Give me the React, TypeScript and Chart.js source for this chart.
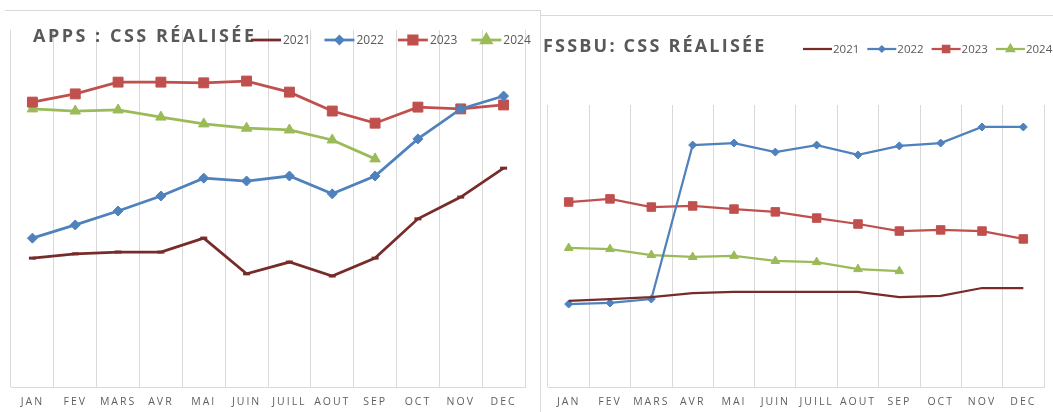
import React, { useEffect, useRef } from "react";
import { Chart, registerables } from "chart.js";
import { drawPoint } from "chart.js/helpers";

Chart.register(...registerables);

const months = ["JAN", "FEV", "MARS", "AVR", "MAI", "JUIN", "JUILL", "AOUT", "SEP", "OCT", "NOV", "DEC"];
const years = ["2021", "2022", "2023", "2024"];

const apps2021 = [36.1, 37.3, 37.8, 37.8, 41.7, 31.7, 35.0, 31.1, 36.1, 47.1, 53.2, 61.3];
const apps2022 = [41.7, 45.4, 49.3, 53.5, 58.5, 57.7, 59.1, 54.1, 59.1, 69.5, 77.9, 81.5];
const apps2023 = [79.8, 82.1, 85.4, 85.4, 85.2, 85.7, 82.6, 77.3, 73.9, 78.4, 77.9, 79.0];
const apps2024 = [77.9, 77.3, 77.6, 75.6, 73.7, 72.5, 72.0, 69.2, 63.9];

const fssbu2021 = [30.5, 31.2, 31.9, 33.3, 33.7, 33.7, 33.7, 33.7, 31.9, 32.3, 35.1, 35.1];
const fssbu2022 = [29.4, 29.8, 31.2, 85.8, 86.5, 83.3, 85.8, 82.3, 85.5, 86.5, 92.2, 92.2];
const fssbu2023 = [65.6, 66.7, 63.8, 64.2, 63.1, 62.1, 59.9, 57.8, 55.3, 55.7, 55.3, 52.5];
const fssbu2024 = [49.3, 48.9, 46.8, 46.1, 46.5, 44.7, 44.3, 41.8, 41.1];

const colors = ["#772C2A", "#4F81BD", "#C0504D", "#9BBB59"];
const styles = ["line", "rectRot", "rect", "triangle"];

const decorPlugin = {
  id: "excelDecor",
  beforeDraw(chart: any) {
    (chart.ctx as any).letterSpacing = "2px";
  },
  afterDraw(chart: any, _args: any, opts: any) {
    const ctx = chart.ctx as any;
    ctx.save();
    ctx.letterSpacing = opts.titleSpacing;
    ctx.font = `bold ${opts.titleSize}px "Open Sans"`;
    ctx.fillStyle = "#595959";
    ctx.textBaseline = "middle";
    ctx.textAlign = "left";
    ctx.fillText(opts.title, opts.titleX, opts.titleY);
    ctx.letterSpacing = "0px";
    ctx.font = `${opts.legendSize}px "Open Sans"`;
    let x = opts.legendX;
    const y = opts.legendY;
    chart.data.datasets.forEach((ds: any, i: number) => {
      ctx.strokeStyle = ds.borderColor;
      ctx.lineWidth = opts.legendLineWidth;
      ctx.beginPath();
      ctx.moveTo(x, y);
      ctx.lineTo(x + opts.legendLen, y);
      ctx.stroke();
      const r = opts.legendRadii[i];
      if (r > 0) {
        ctx.fillStyle = ds.borderColor;
        ctx.strokeStyle = ds.borderColor;
        drawPoint(ctx, { pointStyle: ds.pointStyle, radius: r, rotation: 0, borderWidth: 1 } as any, x + opts.legendLen / 2, y);
      }
      ctx.fillStyle = "#595959";
      const tx = x + opts.legendLen + opts.textGap;
      ctx.fillText(ds.label, tx, y + 0.5);
      x = tx + ctx.measureText(ds.label).width + opts.itemGap;
    });
    ctx.restore();
  },
};

function makeDatasets(series: number[][], radii: number[], lw: number) {
  return series.map((d, i) => ({
    label: years[i],
    data: d,
    borderColor: colors[i],
    backgroundColor: colors[i],
    pointBackgroundColor: colors[i],
    pointBorderColor: colors[i],
    pointStyle: styles[i],
    pointRadius: radii[i],
    pointBorderWidth: i === 0 ? 3 : 1,
    borderWidth: lw,
    tension: 0,
  }));
}

function makeConfig(datasets: any[], padding: any, decor: any) {
  return {
    type: "line",
    data: { labels: months, datasets },
    options: {
      animation: false,
      responsive: false,
      events: [],
      layout: { padding },
      plugins: {
        legend: { display: false },
        tooltip: { enabled: false },
        title: { display: false },
        excelDecor: decor,
      },
      scales: {
        x: {
          offset: true,
          grid: { offset: true, color: "#d9d9d9", drawTicks: false, lineWidth: 1 },
          border: { color: "#d9d9d9" },
          ticks: {
            color: "#5f5f5f",
            font: { family: "Open Sans", size: 10.5 },
            padding: 9,
            maxRotation: 0,
            autoSkip: false,
          },
          afterFit: (s: any) => {
            s.height = 25;
          },
        },
        y: { display: false, min: 0, max: 100 },
      },
    },
    plugins: [decorPlugin],
  } as any;
}

function ChartBox(props: { config: any; left: number; width: number }) {
  const ref = useRef<HTMLCanvasElement | null>(null);
  useEffect(() => {
    if (!ref.current) return;
    const ch = new Chart(ref.current, props.config);
    return () => ch.destroy();
  }, []);
  return (
    <canvas
      ref={ref}
      width={props.width}
      height={412}
      style={{ position: "absolute", left: props.left, top: 0, width: props.width, height: 412 }}
    />
  );
}

export default function App() {
  const leftCfg = makeConfig(
    makeDatasets([apps2021, apps2022, apps2023, apps2024], [3.5, 5, 7, 6], 2.75),
    { left: 11, right: 15, top: 30, bottom: 0 },
    {
      title: "APPS : CSS RÉALISÉE",
      titleX: 33,
      titleY: 37,
      titleSize: 18,
      titleSpacing: "2.5px",
      legendX: 251,
      legendY: 40,
      legendLen: 30,
      legendSize: 12,
      legendLineWidth: 2.75,
      legendRadii: [0, 3.5, 6, 5.5],
      textGap: 2,
      itemGap: 14,
    }
  );
  const rightCfg = makeConfig(
    makeDatasets([fssbu2021, fssbu2022, fssbu2023, fssbu2024], [0, 4, 6, 5], 2.25),
    { left: 4, right: 9, top: 105, bottom: 0 },
    {
      title: "FSSBU: CSS RÉALISÉE",
      titleX: 2,
      titleY: 47,
      titleSize: 18,
      titleSpacing: "2.2px",
      legendX: 262,
      legendY: 49,
      legendLen: 29,
      legendSize: 11.5,
      legendLineWidth: 2.25,
      legendRadii: [0, 2.5, 4.5, 4],
      textGap: 1,
      itemGap: 8,
    }
  );
  const line = "#d9d9d9";
  return (
    <div style={{ position: "absolute", left: 0, top: 0, width: 1053, height: 412, background: "#fff", overflow: "hidden" }}>
      <ChartBox config={leftCfg} left={0} width={540} />
      <ChartBox config={rightCfg} left={541} width={512} />
      <div style={{ position: "absolute", left: 5, top: 10, width: 535, height: 1, background: line }} />
      <div style={{ position: "absolute", left: 540, top: 10, width: 1, height: 402, background: line }} />
      <div style={{ position: "absolute", left: 541, top: 15, width: 512, height: 1, background: line }} />
    </div>
  );
}
